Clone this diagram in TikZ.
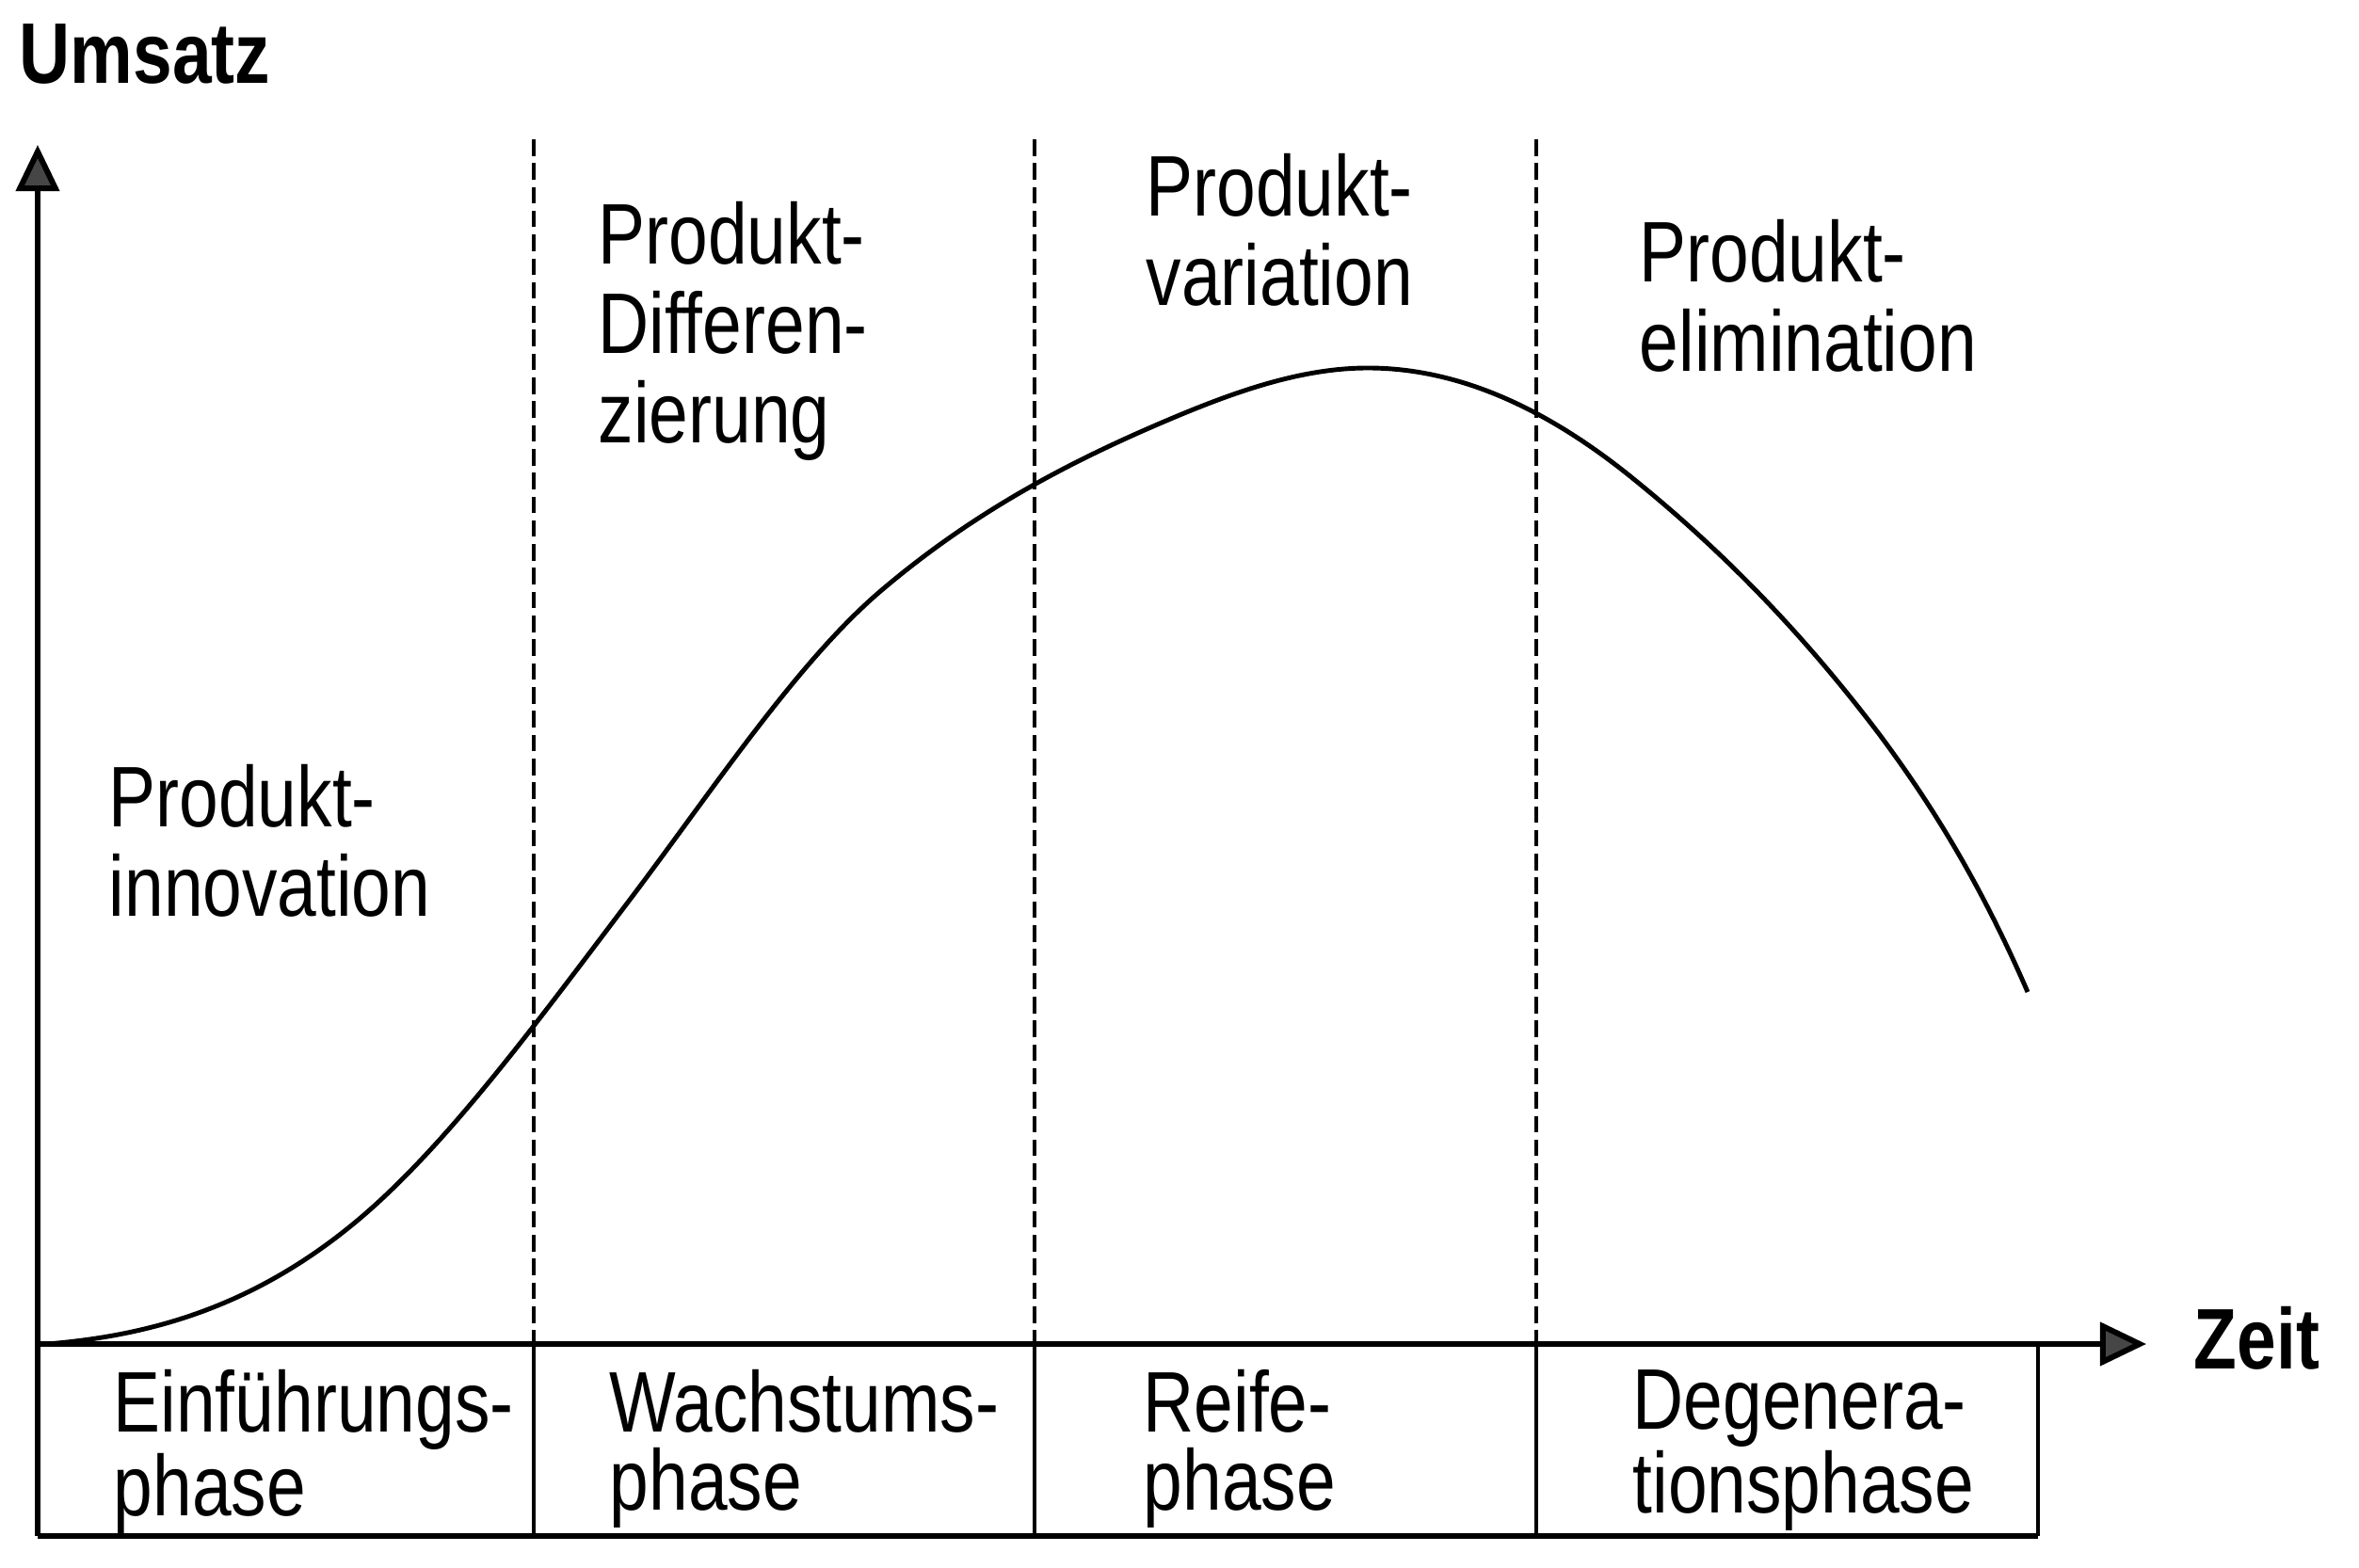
\documentclass[tikz,border=0pt]{standalone}
\usepackage{fontspec}
\setmainfont{Liberation Sans}[FakeStretch=0.82]
\usetikzlibrary{arrows.meta}

\begin{document}
\begin{tikzpicture}[
    phase/.style={anchor=north west, inner sep=0pt, align=left, font=\fontsize{26}{23.5}\selectfont},
    strategy/.style={anchor=north west, inner sep=0pt, align=left, font=\fontsize{26}{27}\selectfont},
    axislabel/.style={anchor=north west, inner sep=0pt, font=\fontsize{26}{27}\selectfont\bfseries},
    axis/.style={line width=1.7pt, -{Triangle[length=14pt,width=13pt,fill=gray!55!black]}},
    divider/.style={line width=1.1pt, dash pattern=on 5pt off 2.2pt}
]
        \useasboundingbox (0,0) rectangle (25.06,16.65);

        % Coordinates
        \coordinate (O) at (0.40,2.37);
        \coordinate (Y) at (0.40,15.11);
        \coordinate (X) at (22.80,2.37);
        \coordinate (BL) at (0.40,0.33);
        \coordinate (BR) at (21.65,0.33);
        \coordinate (TR) at (21.65,2.37);
        \coordinate (T1) at (5.67,15.17);
        \coordinate (M1) at (5.67,2.37);
        \coordinate (B1) at (5.67,0.33);
        \coordinate (T2) at (10.99,15.17);
        \coordinate (M2) at (10.99,2.37);
        \coordinate (B2) at (10.99,0.33);
        \coordinate (T3) at (16.32,15.17);
        \coordinate (M3) at (16.32,2.37);
        \coordinate (B3) at (16.32,0.33);

        % Axes
        \draw[axis] (BL) -- (Y);
        \draw[axis] (O) -- (X);

        % Phase boxes
        \draw[line width=1.9pt] (BL) -- (BR);
        \draw[line width=1.2pt] (BR) -- (TR);
        \draw[line width=1.2pt] (M1) -- (B1);
        \draw[line width=1.2pt] (M2) -- (B2);
        \draw[line width=1.2pt] (M3) -- (B3);

        % Dashed dividers
        \draw[divider] (T1) -- (M1);
        \draw[divider] (T2) -- (M2);
        \draw[divider] (T3) -- (M3);

        % Sales curve
        \draw[line width=1.4pt] (0.50,2.37)
            .. controls (1.61,2.46) and (2.72,2.77) .. (3.83,3.71)
            .. controls (4.77,4.51) and (5.72,5.81) .. (6.66,7.05)
            .. controls (7.57,8.25) and (8.48,9.64) .. (9.39,10.40)
            .. controls (10.41,11.26) and (11.44,11.78) .. (12.46,12.21)
            .. controls (13.15,12.50) and (13.84,12.74) .. (14.53,12.74)
            .. controls (15.45,12.74) and (16.36,12.35) .. (17.28,11.62)
            .. controls (18.18,10.90) and (19.07,10.03) .. (19.97,8.84)
            .. controls (20.49,8.14) and (21.02,7.31) .. (21.54,6.11);

        % Labels
        \node[axislabel] (umsatz) at (0.20,16.40) {Umsatz};
        \node[axislabel] (zeit) at (23.30,2.775) {Zeit};

        \node[strategy] (innovation) at (1.15,8.535) {Produkt-\\innovation};
        \node[strategy] (differenzierung) at (6.35,14.515) {Produkt-\\Differen-\\zierung};
        \node[strategy] (variation) at (12.17,15.025) {Produkt-\\variation};
        \node[strategy] (elimination) at (17.41,14.325) {Produkt-\\elimination};

        \node[phase] (einfuehrung) at (1.20,2.10) {Einführungs-\\phase};
        \node[phase] (wachstum) at (6.47,2.10) {Wachstums-\\phase};
        \node[phase] (reife) at (12.14,2.10) {Reife-\\phase};
        \node[phase] (degeneration) at (17.34,2.10) {Degenera-\\tionsphase};
    \end{tikzpicture}
\end{document}
